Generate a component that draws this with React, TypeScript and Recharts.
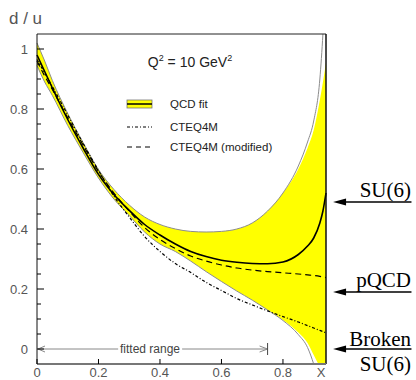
import React from "react";
import { ComposedChart, Area, Line, XAxis, YAxis, ReferenceLine } from "recharts";

// sampled x points for all curves
const xValues = [0, 0.025, 0.05, 0.1, 0.15, 0.2, 0.25, 0.3, 0.35, 0.4, 0.45, 0.5, 0.55, 0.6, 0.65, 0.7, 0.75, 0.8, 0.85, 0.88, 0.9, 0.92, 0.93, 0.94];

// QCD fit: central value and error band edges
const qcdFit = [0.98, 0.925, 0.87, 0.765, 0.67, 0.582, 0.515, 0.462, 0.415, 0.38, 0.35, 0.325, 0.308, 0.296, 0.289, 0.285, 0.284, 0.29, 0.315, 0.343, 0.37, 0.42, 0.46, 0.52];
const qcdUpper = [1.02, 0.96, 0.895, 0.785, 0.688, 0.598, 0.532, 0.48, 0.44, 0.415, 0.4, 0.392, 0.39, 0.392, 0.4, 0.42, 0.46, 0.52, 0.61, 0.69, 0.76, 0.9, 1.05, 1.25];
const qcdLower = [0.945, 0.89, 0.845, 0.745, 0.655, 0.57, 0.5, 0.445, 0.39, 0.35, 0.325, 0.293, 0.258, 0.225, 0.193, 0.163, 0.13, 0.095, 0.048, 0.005, -0.05, -0.12, -0.17, -0.22];
// shaded region (coarser than the edge curves at large x)
const fillUpper = [1.02, 0.96, 0.895, 0.785, 0.688, 0.598, 0.532, 0.48, 0.44, 0.415, 0.4, 0.392, 0.39, 0.392, 0.4, 0.42, 0.46, 0.52, 0.6, 0.67, 0.73, 0.83, 0.89, 0.955];
const fillLower = [0.945, 0.89, 0.845, 0.745, 0.655, 0.57, 0.5, 0.445, 0.39, 0.35, 0.325, 0.293, 0.258, 0.225, 0.193, 0.163, 0.13, 0.097, 0.055, 0.02, -0.02, -0.06, -0.08, -0.1];

// CTEQ4M parametrisations
const cteq4m = [0.965, 0.92, 0.875, 0.78, 0.685, 0.595, 0.51, 0.44, 0.375, 0.325, 0.285, 0.255, 0.222, 0.195, 0.168, 0.147, 0.127, 0.108, 0.09, 0.078, 0.07, 0.062, 0.058, 0.054];
const cteq4mModified = [0.96, 0.91, 0.865, 0.77, 0.68, 0.592, 0.52, 0.46, 0.405, 0.365, 0.335, 0.31, 0.293, 0.28, 0.27, 0.263, 0.258, 0.254, 0.25, 0.247, 0.245, 0.242, 0.24, 0.238];

const xTicks = [0, 0.2, 0.4, 0.6, 0.8];
const yTicks = [0, 0.05, 0.1, 0.15, 0.2, 0.25, 0.3, 0.35, 0.4, 0.45, 0.5, 0.55, 0.6, 0.65, 0.7, 0.75, 0.8, 0.85, 0.9, 0.95, 1];
const yLabelled = [0, 0.2, 0.4, 0.6, 0.8, 1];

// theoretical limits at x -> 1
const limitValues = [0.49, 0.19, 0];
const limitArrowX = [0.963, 1.218];
const fittedRange = [0, 0.75];
const fittedGap = [0.264, 0.472];

const X_MAX = 0.94;
const Y_MIN = -0.05;
const Y_MAX = 1.05;

const data = xValues.map((x, i) => ({
  x,
  fit: qcdFit[i],
  hi: qcdUpper[i],
  lo: qcdLower[i],
  band: [fillLower[i], fillUpper[i]],
  cteq: cteq4m[i],
  cteqMod: cteq4mModified[i],
}));

const sans = "'Liberation Sans', Arial, sans-serif";
const serif = "'Liberation Serif', 'Times New Roman', serif";

const fmt = (v: number) => String(Number(v.toFixed(2)));

const YTick = (props: any) => {
  const { x, y, payload } = props;
  const v = payload.value;
  const major = yLabelled.some((t) => Math.abs(t - v) < 1e-6);
  const ax = x + 6;
  return (
    <g>
      <line x1={ax} x2={ax + (major ? 7 : 4)} y1={y} y2={y} stroke="#000" strokeWidth={1} />
      {major && (
        <text x={ax - 9} y={y} dy={4.5} textAnchor="end" fontSize={13} fill="#555" fontFamily={sans}>
          {fmt(v)}
        </text>
      )}
    </g>
  );
};

const XTick = (props: any) => {
  const { x, y, payload } = props;
  return (
    <g>
      <line x1={x} x2={x} y1={y - 5} y2={y} stroke="#000" strokeWidth={1} />
      <text x={x} y={y + 13} textAnchor="middle" fontSize={13} fill="#555" fontFamily={sans}>
        {fmt(payload.value)}
      </text>
    </g>
  );
};

// black arrow pointing left, used for the x -> 1 limits
const LimitArrow = (p: any) => {
  const { x1, y1, x2 } = p;
  const left = Math.min(x1, x2);
  const right = Math.max(x1, x2);
  return (
    <g>
      <line x1={left + 8} x2={right} y1={y1} y2={y1} stroke="#000" strokeWidth={1.3} />
      <polygon points={`${left},${y1} ${left + 13},${y1 - 3.5} ${left + 13},${y1 + 3.5}`} fill="#000" />
    </g>
  );
};

const RangeLeft = (p: any) => {
  const { x1, y1, x2 } = p;
  return (
    <g stroke="#888" fill="none" strokeWidth={1}>
      <line x1={x1 + 1} x2={x2} y1={y1} y2={y1} />
      <polyline points={`${x1 + 8},${y1 - 3} ${x1 + 1},${y1} ${x1 + 8},${y1 + 3}`} />
    </g>
  );
};

const RangeRight = (p: any) => {
  const { x1, y1, x2 } = p;
  return (
    <g stroke="#888" fill="none" strokeWidth={1}>
      <line x1={x1} x2={x2} y1={y1} y2={y1} />
      <polyline points={`${x2 - 8},${y1 - 3} ${x2},${y1} ${x2 - 8},${y1 + 3}`} />
      <line x1={x2} x2={x2} y1={y1 - 6} y2={y1 + 6} stroke="#444" />
    </g>
  );
};

const limitLabels = [
  { text: "SU(6)", y: 197 },
  { text: "pQCD", y: 287 },
  { text: "Broken", y: 346 },
  { text: "SU(6)", y: 371 },
];

export default function App() {
  return (
    <div style={{ position: "absolute", left: 0, top: 0, width: 416, height: 380, background: "#fff" }}>
      <ComposedChart width={416} height={380} data={data} margin={{ top: 34, right: 90, bottom: 0, left: 0 }}>
        <XAxis
          dataKey="x"
          type="number"
          domain={[0, X_MAX]}
          ticks={xTicks}
          tick={<XTick />}
          tickSize={0}
          tickMargin={0}
          tickLine={false}
          height={16}
          axisLine={{ stroke: "#777", strokeWidth: 2 }}
        />
        <YAxis
          type="number"
          domain={[Y_MIN, Y_MAX]}
          allowDataOverflow
          ticks={yTicks}
          interval={0}
          tick={<YTick />}
          tickSize={0}
          tickMargin={6}
          tickLine={false}
          width={37}
          axisLine={{ stroke: "#111", strokeWidth: 1 }}
        />
        <Area
          dataKey="band"
          type="monotone"
          fill="#ffff00"
          fillOpacity={1}
          stroke="none"
          isAnimationActive={false}
          activeDot={false}
        />
        <Line dataKey="hi" type="monotone" stroke="#8c8c8c" strokeWidth={1} dot={false} isAnimationActive={false} />
        <Line dataKey="lo" type="monotone" stroke="#8c8c8c" strokeWidth={1} dot={false} isAnimationActive={false} />
        <Line
          dataKey="cteq"
          type="monotone"
          stroke="#000"
          strokeWidth={1.2}
          strokeDasharray="3 2 1 2"
          dot={false}
          isAnimationActive={false}
        />
        <Line
          dataKey="cteqMod"
          type="monotone"
          stroke="#000"
          strokeWidth={1.2}
          strokeDasharray="6 4"
          dot={false}
          isAnimationActive={false}
        />
        <Line dataKey="fit" type="monotone" stroke="#000" strokeWidth={1.6} dot={false} isAnimationActive={false} />
        <ReferenceLine y={Y_MAX} stroke="#222" strokeWidth={1} />
        <ReferenceLine x={X_MAX} stroke="#111" strokeWidth={1.5} />
        <ReferenceLine
          segment={[{ x: fittedRange[0], y: 0 }, { x: fittedGap[0], y: 0 }]}
          ifOverflow="visible"
          shape={RangeLeft}
        />
        <ReferenceLine
          segment={[{ x: fittedGap[1], y: 0 }, { x: fittedRange[1], y: 0 }]}
          ifOverflow="visible"
          shape={RangeRight}
        />
        {limitValues.map((v, i) => (
          <ReferenceLine
            key={i}
            segment={[{ x: limitArrowX[0], y: v }, { x: limitArrowX[1], y: v }]}
            ifOverflow="visible"
            shape={LimitArrow}
          />
        ))}
      </ComposedChart>
      <svg width={416} height={380} style={{ position: "absolute", left: 0, top: 0, pointerEvents: "none" }}>
        <text x={9} y={24} fontSize={17} fill="#555" fontFamily={sans}>
          d / u
        </text>
        <text x={190} y={67} fontSize={14} fill="#222" fontFamily={sans} textAnchor="middle">
          Q<tspan fontSize={9} dy={-6}>2</tspan>
          <tspan dy={6}> = 10 GeV</tspan>
          <tspan fontSize={9} dy={-6}>2</tspan>
        </text>
        {/* legend */}
        <rect x={127} y={100} width={25} height={8} fill="#ffff00" stroke="#777" strokeWidth={0.8} />
        <line x1={127} x2={152} y1={104} y2={104} stroke="#000" strokeWidth={1.5} />
        <text x={170} y={108} fontSize={11.5} fill="#222" fontFamily={sans}>QCD fit</text>
        <line x1={127} x2={152} y1={127} y2={127} stroke="#000" strokeWidth={1} strokeDasharray="3 2 1 2" />
        <text x={170} y={131} fontSize={11.5} fill="#222" fontFamily={sans}>CTEQ4M</text>
        <line x1={127} x2={152} y1={147} y2={147} stroke="#000" strokeWidth={1} strokeDasharray="5 4" />
        <text x={170} y={151} fontSize={11.5} fill="#222" fontFamily={sans}>CTEQ4M (modified)</text>
        <text x={150} y={353} fontSize={12} fill="#444" fontFamily={sans} textAnchor="middle">
          fitted range
        </text>
        <text x={321} y={377} fontSize={13} fill="#555" fontFamily={sans} textAnchor="middle">
          X
        </text>
        {limitLabels.map((l, i) => (
          <text key={i} x={411} y={l.y} fontSize={21} fill="#000" fontFamily={serif} textAnchor="end">
            {l.text}
          </text>
        ))}
      </svg>
    </div>
  );
}
